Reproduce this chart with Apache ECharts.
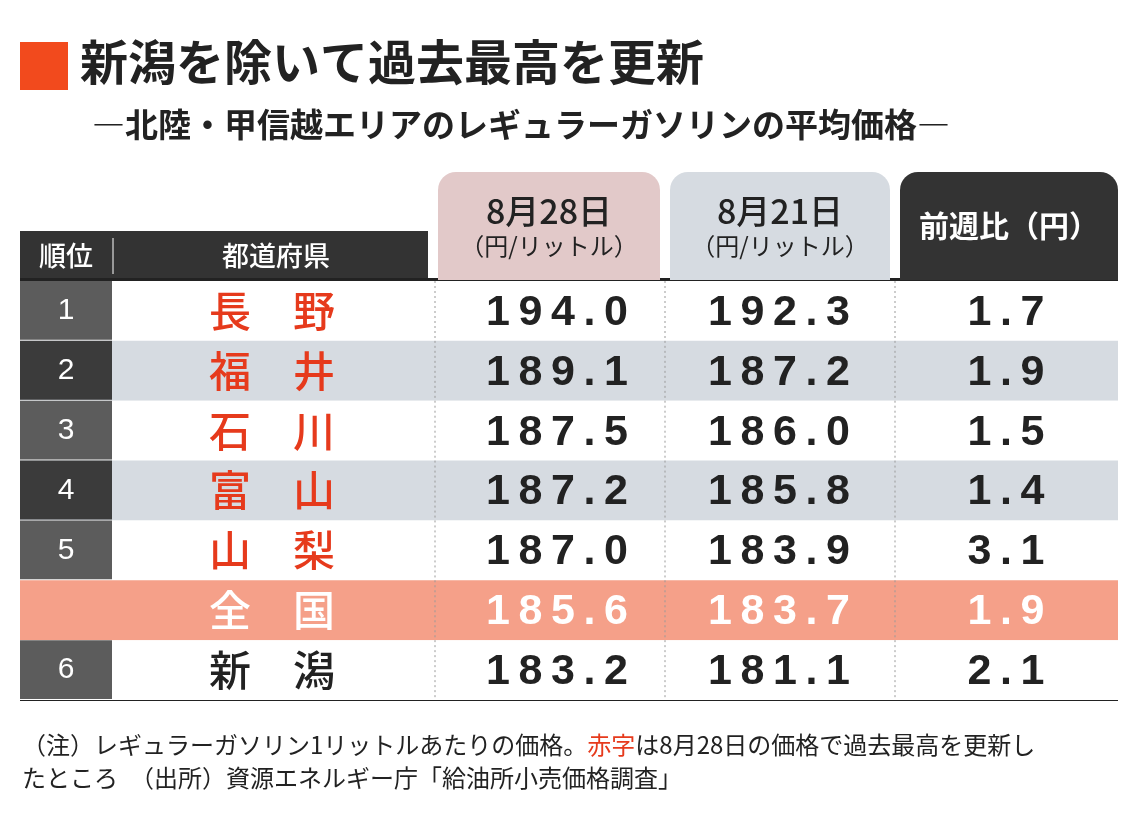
<!DOCTYPE html>
<html><head><meta charset="utf-8">
<script src="https://cdn.jsdelivr.net/npm/echarts@6/dist/echarts.min.js"></script>
<style>html,body{margin:0;background:#fff}#c{width:1140px;height:840px}</style>
</head><body><div id="c"></div>
<script>
'use strict';
var ranks = ['1', '2', '3', '4', '5', '', '6'];
var prefs = ['長　野', '福　井', '石　川', '富　山', '山　梨', '全　国', '新　潟'];
var price0828 = ['194.0', '189.1', '187.5', '187.2', '187.0', '185.6', '183.2'];
var price0821 = ['192.3', '187.2', '186.0', '185.8', '183.9', '183.7', '181.1'];
var diffs = ['1.7', '1.9', '1.5', '1.4', '3.1', '1.9', '2.1'];
var records = [true, true, true, true, true, false, false];

var JP = '"Noto Sans CJK JP", sans-serif';
var NUM = '"Liberation Sans", Arial, sans-serif';
// column centres along x (value axis 0..1098)
var nameX = 252, valX = [537, 759, 986];

var chart = echarts.init(document.getElementById('c'));

function renderRow(params, api) {
	var i = api.value(0);
	var c = api.coord([0, i]);
	var h = api.size([0, 1])[1];
	var top = c[1] - h / 2;
	var x = function (v) { return api.coord([v, i])[0]; };
	var national = ranks[i] === '';
	var kids = [];
	var bg = national ? '#f5a089' : (i % 2 === 1 ? '#d6dbe1' : '#fff');
	kids.push({type: 'rect', shape: {x: x(0), y: top, width: x(1098) - x(0), height: h}, style: {fill: bg}});
	if (!national) {
		kids.push({type: 'rect', shape: {x: x(0), y: top, width: x(92) - x(0), height: h - 1},
			style: {fill: i % 2 === 1 ? '#3b3b3b' : '#5c5c5c'}});
		kids.push({type: 'text', x: x(46), y: c[1], style: {text: ranks[i], fill: '#fff', font: '30px ' + NUM, align: 'center', verticalAlign: 'middle'}});
	}
	[415, 645, 875].forEach(function (e) {
		kids.push({type: 'line', shape: {x1: x(e), y1: top, x2: x(e), y2: top + h},
			style: {stroke: '#999', lineWidth: 1, lineDash: [2, 3]}});
	});
	var txtCol = national ? '#fff' : '#222';
	kids.push({type: 'text', x: x(nameX), y: c[1], style: {text: prefs[i], font: '500 42px ' + JP,
		fill: records[i] ? '#e63a1c' : txtCol, align: 'center', verticalAlign: 'middle'}});
	[price0828, price0821, diffs].forEach(function (arr, k) {
		kids.push({type: 'text', x: x(valX[k]), y: c[1] + 2, style: {text: arr[i].split('').join('\u2009'),
			font: 'bold 43px ' + NUM, fill: txtCol, align: 'center', verticalAlign: 'middle'}});
	});
	return {type: 'group', children: kids};
}

function header(x, w, fill, l1, l2, col) {
	var txt = l2 ? '{a|' + l1 + '}\n{b|' + l2 + '}' : '{c|' + l1 + '}';
	return [{
		type: 'rect', left: x, top: 172, shape: {width: w, height: 108, r: [18, 18, 0, 0]}, style: {fill: fill},
		textContent: {style: {text: txt, fill: col, align: 'center', rich: {
			a: {font: '500 34px ' + JP, fill: col, lineHeight: 40},
			b: {font: '24px ' + JP, fill: col, lineHeight: 30},
			c: {font: 'bold 30px ' + JP, fill: col}
		}}},
		textConfig: {position: 'inside'}
	}];
}

var graphics = [
	{type: 'rect', left: 20, top: 42, shape: {width: 48, height: 48}, style: {fill: '#f24a1d'}},
	{type: 'text', left: 80, top: 38, style: {text: '新潟を除いて過去最高を更新', font: 'bold 48px ' + JP, fill: '#222'}},
	{type: 'text', left: 92, top: 108, style: {text: '―北陸・甲信越エリアのレギュラーガソリンの平均価格―', font: 'bold 33px ' + JP, fill: '#222'}},
	{type: 'rect', left: 20, top: 231, shape: {width: 408, height: 49}, style: {fill: '#333'}},
	{type: 'line', shape: {x1: 113, y1: 238, x2: 113, y2: 274}, style: {stroke: '#fff', lineWidth: 1}},
	{type: 'text', x: 66, y: 256, style: {text: '順位', font: '500 27px ' + JP, fill: '#fff', align: 'center', verticalAlign: 'middle'}},
	{type: 'text', x: 276, y: 256, style: {text: '都道府県', font: '500 27px ' + JP, fill: '#fff', align: 'center', verticalAlign: 'middle'}},
	{type: 'rect', left: 20, top: 278, shape: {width: 1098, height: 3}, style: {fill: '#222'}},
	{type: 'rect', left: 20, top: 699, shape: {width: 1098, height: 2}, style: {fill: '#222'}},
	{type: 'text', left: 22, top: 733, style: {text: '（注）レギュラーガソリン1リットルあたりの価格。{r|赤字}は8月28日の価格で過去最高を更新し', font: '24px ' + JP, fill: '#222', rich: {r: {fill: '#e63a1c', font: '24px ' + JP}}}},
	{type: 'text', left: 22, top: 766, style: {text: 'たところ　（出所）資源エネルギー庁「給油所小売価格調査」', font: '24px ' + JP, fill: '#222'}}
].concat(header(438, 222, '#e2c9c9', '8月28日', '（円/リットル）', '#222'))
 .concat(header(670, 220, '#d6dbe1', '8月21日', '（円/リットル）', '#222'))
 .concat(header(900, 218, '#333', '前週比（円）', null, '#fff'));

chart.setOption({
	animation: false,
	grid: {left: 20, right: 22, top: 281, height: 419},
	xAxis: {type: 'value', min: 0, max: 1098, show: false},
	yAxis: {type: 'category', data: prefs, inverse: true, show: false},
	graphic: graphics,
	series: [{
		type: 'custom',
		renderItem: renderRow,
		data: prefs.map(function (p, i) { return [i]; }),
		encode: {x: -1, y: 0}
	}]
});
</script></body></html>
